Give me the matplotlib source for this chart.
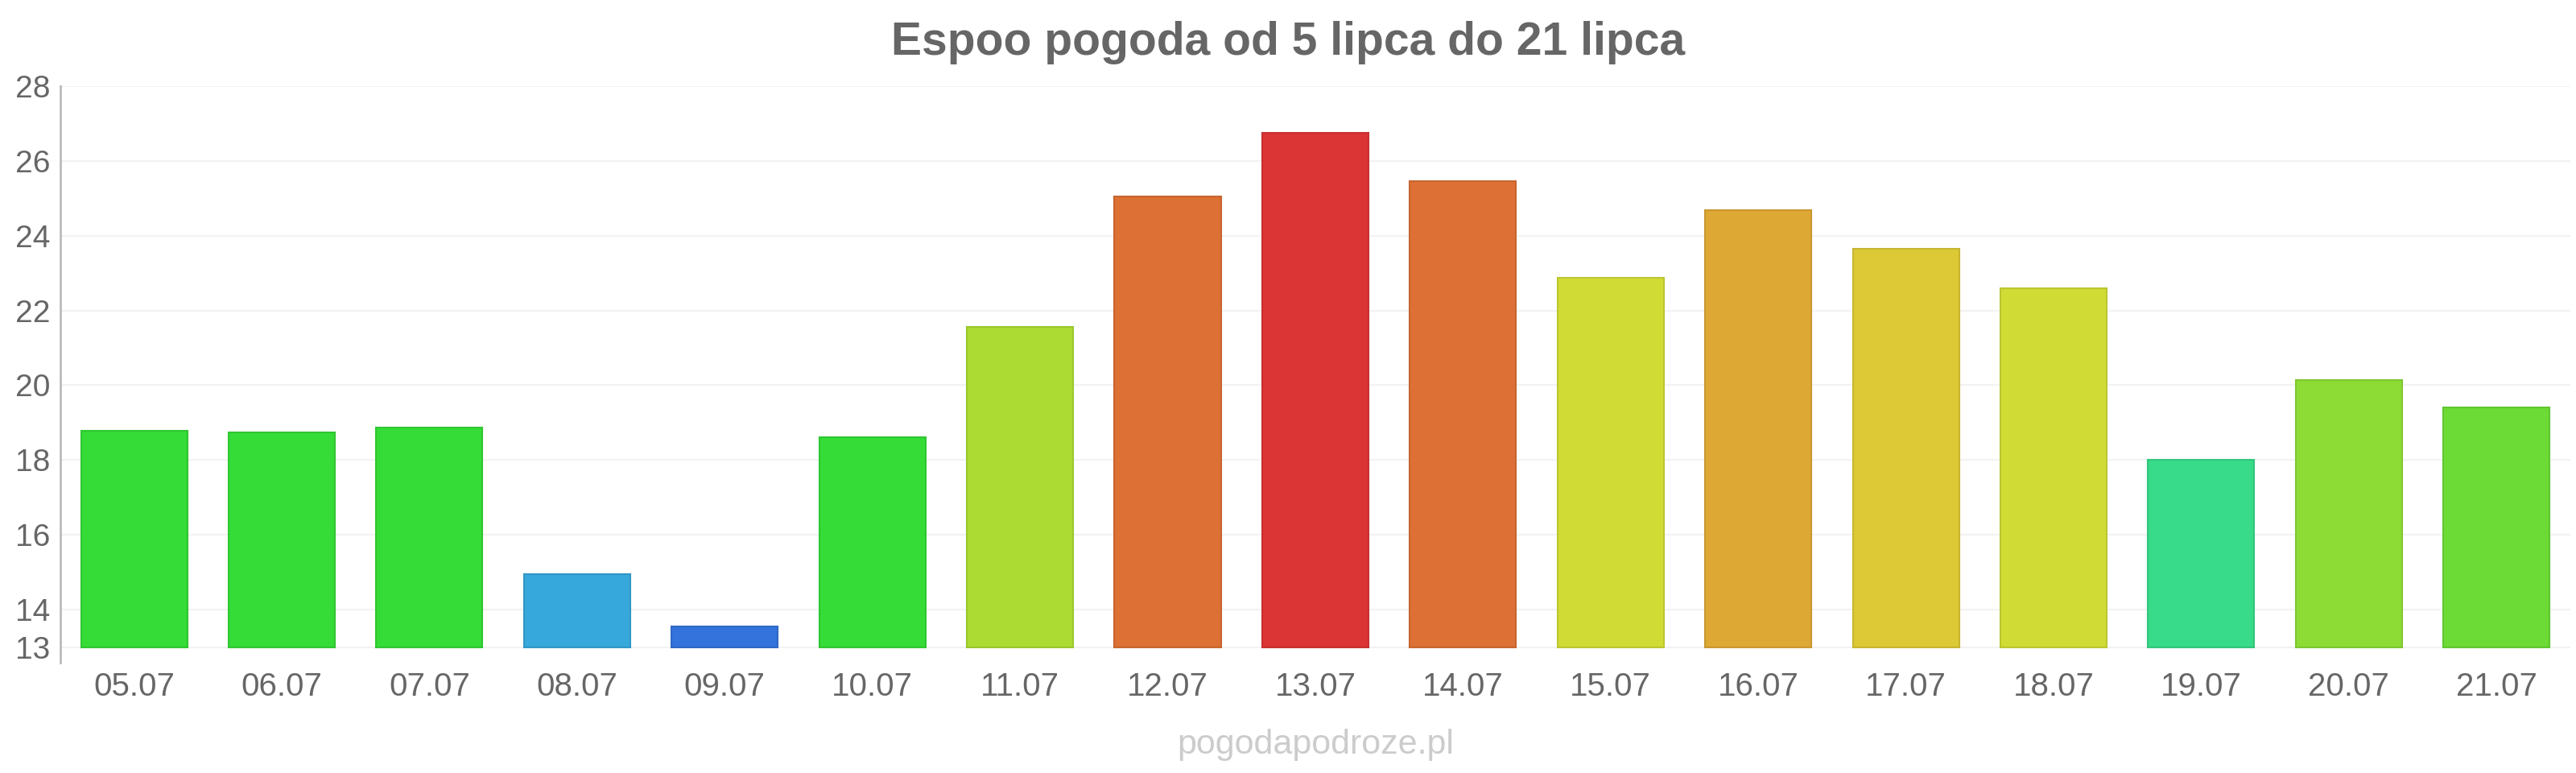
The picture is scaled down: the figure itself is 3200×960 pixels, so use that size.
import matplotlib.pyplot as plt
import matplotlib.colors as mcolors
import numpy as np

days = ["05.07", "06.07", "07.07", "08.07", "09.07", "10.07", "11.07", "12.07", "13.07",
        "14.07", "15.07", "16.07", "17.07", "18.07", "19.07", "20.07", "21.07"]
temps = [18.78, 18.75, 18.87, 14.95, 13.54, 18.62, 21.56, 25.05, 26.75,
         25.46, 22.88, 24.68, 23.64, 22.6, 18.0, 20.15, 19.4]
bar_colors = ["#35dc37", "#35dc37", "#35dc37", "#37a8dc", "#3373db", "#35dc37", "#acdc33",
              "#dd7034", "#dc3535", "#dd7034", "#d0dc35", "#dea835", "#dcc935", "#d0dc35",
              "#37db8a", "#8cdc35", "#6cdb35"]
y_ticks = [13, 14, 16, 18, 20, 22, 24, 26, 28]
base = 13

plt.rcParams["font.family"] = ["Liberation Sans", "DejaVu Sans"]

fig = plt.figure(figsize=(32, 9.6), dpi=100)
ax = fig.add_axes([0.0234, 0.1427, 0.9744, 0.7458])

edge_colors = [tuple(c * 0.9 for c in mcolors.to_rgb(col)) for col in bar_colors]
x = np.arange(len(days))
ax.bar(x, [t - base for t in temps], bottom=base, width=0.72,
       color=bar_colors, edgecolor=edge_colors, linewidth=1.5, zorder=3)

ax.set_xlim(-0.5, len(days) - 0.5)
ax.set_ylim(12.58, 28)
ax.set_yticks(y_ticks)
ax.set_xticks(x)
ax.set_xticklabels(days)
ax.grid(axis="y", color="#f2f2f2", linewidth=1.5, zorder=0)
ax.tick_params(axis="y", length=0, labelsize=28, labelcolor="#666666", pad=9)
ax.tick_params(axis="x", length=0, labelsize=29, labelcolor="#666666", pad=8)

for side in ["top", "right", "bottom"]:
    ax.spines[side].set_visible(False)
ax.spines["left"].set_color("#bbbbbb")
ax.spines["left"].set_linewidth(2)

fig.text(0.5, 0.945, "Espoo pogoda od 5 lipca do 21 lipca", ha="center", va="center",
         fontsize=41, fontweight="bold", color="#666666")
fig.text(0.5106, 0.036, "pogodapodroze.pl", ha="center", va="center",
         fontsize=31, color="#cccccc")

fig.savefig("out.png", dpi=100)
